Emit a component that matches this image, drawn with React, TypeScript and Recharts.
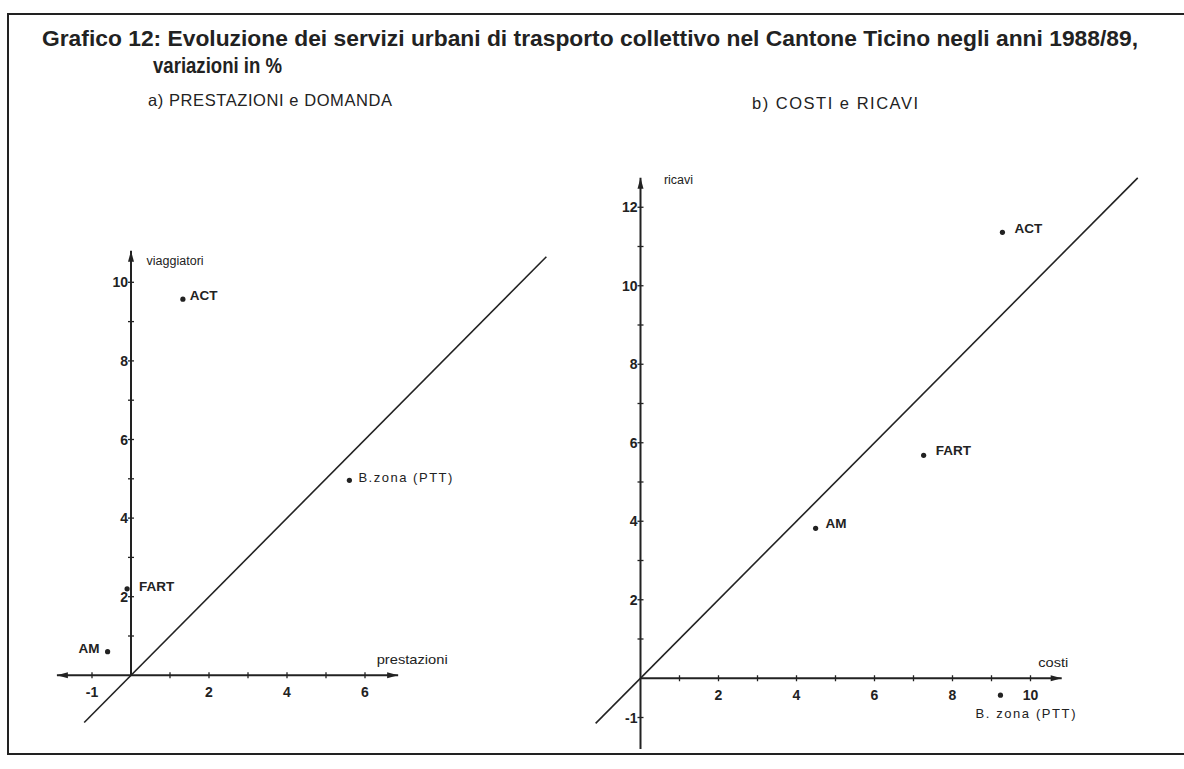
import { ScatterChart, Scatter, XAxis, YAxis, ReferenceLine, ReferenceDot } from 'recharts';

// a) prestazioni / viaggiatori (variazioni %)
const namesA = ['ACT', 'FART', 'AM', 'B.zona (PTT)'];
const prestazioni = [1.33, -0.1, -0.6, 5.6];
const viaggiatori = [9.57, 2.2, 0.6, 4.96];

// b) costi / ricavi (variazioni %)
const namesB = ['ACT', 'FART', 'AM', 'B. zona (PTT)'];
const costi = [9.28, 7.26, 4.49, 9.23];
const ricavi = [11.36, 5.68, 3.82, -0.43];

const ticksAX = [-1, 1, 2, 3, 4, 5, 6];
const labelsAX = [-1, 2, 4, 6];
const ticksAY = [1, 2, 3, 4, 5, 6, 7, 8, 9, 10];
const labelsAY = [2, 4, 6, 8, 10];

const ticksBX = [1, 2, 3, 4, 5, 6, 7, 8, 9, 10];
const labelsBX = [2, 4, 6, 8, 10];
const ticksBY = [-1, 1, 2, 3, 4, 5, 6, 7, 8, 9, 10, 11, 12];
const labelsBY = [-1, 2, 4, 6, 8, 10, 12];

// extent of the drawn axes and of the bisector, in data units
const axesA = { x: [-1.9, 6.85], y: [0, 10.8], diag: [-1.2, 10.65] };
const axesB = { x: [0, 10.8], y: [-1.8, 12.75], diag: [-1.15, 12.75] };

const dataA = namesA.map((name, i) => ({ name, x: prestazioni[i], y: viaggiatori[i] }));
const dataB = namesB.map((name, i) => ({ name, x: costi[i], y: ricavi[i] }));

const INK = '#222';
const FONT = '"Liberation Sans", Arial, sans-serif';

type Place = { dx: number; dy: number; anchor: string; width?: number };

// where each point's name sits relative to its dot
const placeA: Record<string, Place> = {
  ACT: { dx: 7, dy: -4, anchor: 'start' },
  FART: { dx: 12, dy: -3, anchor: 'start' },
  AM: { dx: -8, dy: -4, anchor: 'end' },
  'B.zona (PTT)': { dx: 9, dy: -3, anchor: 'start', width: 94 },
};
const placeB: Record<string, Place> = {
  ACT: { dx: 12, dy: -4, anchor: 'start' },
  FART: { dx: 12, dy: -5, anchor: 'start' },
  AM: { dx: 10, dy: -5, anchor: 'start' },
  'B. zona (PTT)': { dx: -25, dy: 18, anchor: 'start', width: 100 },
};

const arrowLine = (arrowStart: boolean) => (p: any) => {
  const { x1, y1, x2, y2 } = p;
  const ang = Math.atan2(y2 - y1, x2 - x1);
  const head = (x: number, y: number, a: number) => {
    const L = 11, W = 3;
    const bx = x - L * Math.cos(a), by = y - L * Math.sin(a);
    const nx = -Math.sin(a) * W, ny = Math.cos(a) * W;
    return `${x},${y} ${bx + nx},${by + ny} ${bx - nx},${by - ny}`;
  };
  return (
    <g>
      <line x1={x1} y1={y1} x2={x2} y2={y2} stroke={INK} strokeWidth={2} />
      <polygon points={head(x2, y2, ang)} fill={INK} />
      {arrowStart && <polygon points={head(x1, y1, ang + Math.PI)} fill={INK} />}
    </g>
  );
};

const plainLine = (p: any) => (
  <line x1={p.x1} y1={p.y1} x2={p.x2} y2={p.y2} stroke={INK} strokeWidth={1.6} />
);

const xTick = (label: boolean) => (p: any) => (
  <g>
    <line x1={p.cx} y1={p.cy - 3} x2={p.cx} y2={p.cy + 3} stroke={INK} strokeWidth={1.3} />
    {label && (
      <text x={p.cx} y={p.cy + 22} textAnchor="middle" fontSize={14} fontWeight="bold" fontFamily={FONT} fill={INK}>
        {p.value}
      </text>
    )}
  </g>
);

const yTick = (label: boolean) => (p: any) => (
  <g>
    <line x1={p.cx - 3} y1={p.cy} x2={p.cx + 3} y2={p.cy} stroke={INK} strokeWidth={1.3} />
    {label && (
      <text x={p.cx - 3} y={p.cy + 5} textAnchor="end" fontSize={14} fontWeight="bold" fontFamily={FONT} fill={INK}>
        {p.value}
      </text>
    )}
  </g>
);

const pointShape = (place: Record<string, Place>) => (p: any) => {
  const pl = place[p.payload.name];
  const isZona = p.payload.name.startsWith('B');
  return (
    <g>
      <circle cx={p.cx} cy={p.cy} r={2.6} fill={INK} />
      <text
        x={p.cx + pl.dx}
        y={p.cy + pl.dy + 5}
        textAnchor={pl.anchor}
        fontSize={isZona ? 13 : 13.5}
        fontWeight={isZona ? 'normal' : 'bold'}
        fontFamily={FONT}
        fill={INK}
        textLength={pl.width}
        lengthAdjust={pl.width ? 'spacing' : undefined}
      >
        {p.payload.name}
      </text>
    </g>
  );
};

function Panel(props: {
  data: { name: string; x: number; y: number }[];
  domainX: [number, number];
  domainY: [number, number];
  width: number;
  height: number;
  axes: { x: number[]; y: number[]; diag: number[] };
  ticksX: number[];
  labelsX: number[];
  ticksY: number[];
  labelsY: number[];
  place: Record<string, Place>;
  xName: string;
  yName: string;
  xNameAt: [number, number];
  yNameAt: [number, number];
  xNameWidth: number;
  xArrowBoth: boolean;
}) {
  const { axes } = props;
  return (
    <ScatterChart width={props.width} height={props.height} margin={{ top: 0, right: 0, bottom: 0, left: 0 }}>
      <XAxis type="number" dataKey="x" domain={props.domainX} allowDataOverflow hide />
      <YAxis type="number" dataKey="y" domain={props.domainY} allowDataOverflow hide />
      <ReferenceLine
        segment={[{ x: axes.diag[0], y: axes.diag[0] }, { x: axes.diag[1], y: axes.diag[1] }]}
        ifOverflow="visible"
        shape={plainLine}
      />
      <ReferenceLine
        segment={[{ x: axes.x[0], y: 0 }, { x: axes.x[1], y: 0 }]}
        ifOverflow="visible"
        shape={arrowLine(props.xArrowBoth)}
      />
      <ReferenceLine
        segment={[{ x: 0, y: axes.y[0] }, { x: 0, y: axes.y[1] }]}
        ifOverflow="visible"
        shape={arrowLine(false)}
      />
      {props.ticksX.map((t) => (
        <ReferenceDot key={'x' + t} x={t} y={0} r={0} ifOverflow="visible"
          shape={(p: any) => xTick(props.labelsX.includes(t))({ ...p, value: t })} />
      ))}
      {props.ticksY.map((t) => (
        <ReferenceDot key={'y' + t} x={0} y={t} r={0} ifOverflow="visible"
          shape={(p: any) => yTick(props.labelsY.includes(t))({ ...p, value: t })} />
      ))}
      <ReferenceDot x={props.xNameAt[0]} y={props.xNameAt[1]} r={0} ifOverflow="visible"
        shape={(p: any) => (
          <text x={p.cx} y={p.cy} fontSize={13} fontFamily={FONT} fill={INK}
            textLength={props.xNameWidth} lengthAdjust="spacingAndGlyphs">{props.xName}</text>
        )} />
      <ReferenceDot x={props.yNameAt[0]} y={props.yNameAt[1]} r={0} ifOverflow="visible"
        shape={(p: any) => (
          <text x={p.cx} y={p.cy} fontSize={12.5} fontFamily={FONT} fill={INK}>{props.yName}</text>
        )} />
      <Scatter data={props.data} isAnimationActive={false} shape={pointShape(props.place)} />
    </ScatterChart>
  );
}

export default function App() {
  return (
    <div style={{ position: 'absolute', left: 0, top: 0, width: 1184, height: 769, background: '#fff', overflow: 'hidden' }}>
      <div style={{ position: 'absolute', left: 7, top: 13, width: 1177, height: 738, borderLeft: `2px solid ${INK}`, borderTop: `2px solid ${INK}`, borderBottom: `2px solid ${INK}` }} />
      <svg width={1184} height={130} style={{ position: 'absolute', left: 0, top: 0 }}>
        <text x={42} y={46} fontSize={22.5} fontWeight="bold" fontFamily={FONT} fill={INK}
          textLength={1096} lengthAdjust="spacingAndGlyphs">
          Grafico 12: Evoluzione  dei servizi urbani di trasporto collettivo nel Cantone Ticino negli anni 1988/89,
        </text>
        <text x={153} y={73} fontSize={22.5} fontWeight="bold" fontFamily={FONT} fill={INK}
          textLength={129} lengthAdjust="spacingAndGlyphs">
          variazioni in %
        </text>
        <text x={148} y={106} fontSize={16.5} fontFamily={FONT} fill={INK}
          textLength={244} lengthAdjust="spacing">
          a) PRESTAZIONI  e  DOMANDA
        </text>
        <text x={752} y={109} fontSize={16.5} fontFamily={FONT} fill={INK}
          textLength={166} lengthAdjust="spacing">
          b) COSTI  e  RICAVI
        </text>
      </svg>
      <div style={{ position: 'absolute', left: 53, top: 242.7 }}>
        <Panel
          data={dataA}
          domainX={[-2, 11]}
          domainY={[-1.5, 11]}
          width={507}
          height={491.25}
          axes={axesA}
          ticksX={ticksAX}
          labelsX={labelsAX}
          ticksY={ticksAY}
          labelsY={labelsAY}
          place={placeA}
          xName="prestazioni"
          yName="viaggiatori"
          xNameAt={[6.3, 0.3]}
          yNameAt={[0.4, 10.45]}
          xNameWidth={71}
          xArrowBoth
        />
      </div>
      <div style={{ position: 'absolute', left: 581.5, top: 167.75 }}>
        <Panel
          data={dataB}
          domainX={[-1.5, 13.5]}
          domainY={[-2, 13]}
          width={585}
          height={588.75}
          axes={axesB}
          ticksX={ticksBX}
          labelsX={labelsBX}
          ticksY={ticksBY}
          labelsY={labelsBY}
          place={placeB}
          xName="costi"
          yName="ricavi"
          xNameAt={[10.2, 0.28]}
          yNameAt={[0.6, 12.6]}
          xNameWidth={30}
          xArrowBoth={false}
        />
      </div>
    </div>
  );
}
